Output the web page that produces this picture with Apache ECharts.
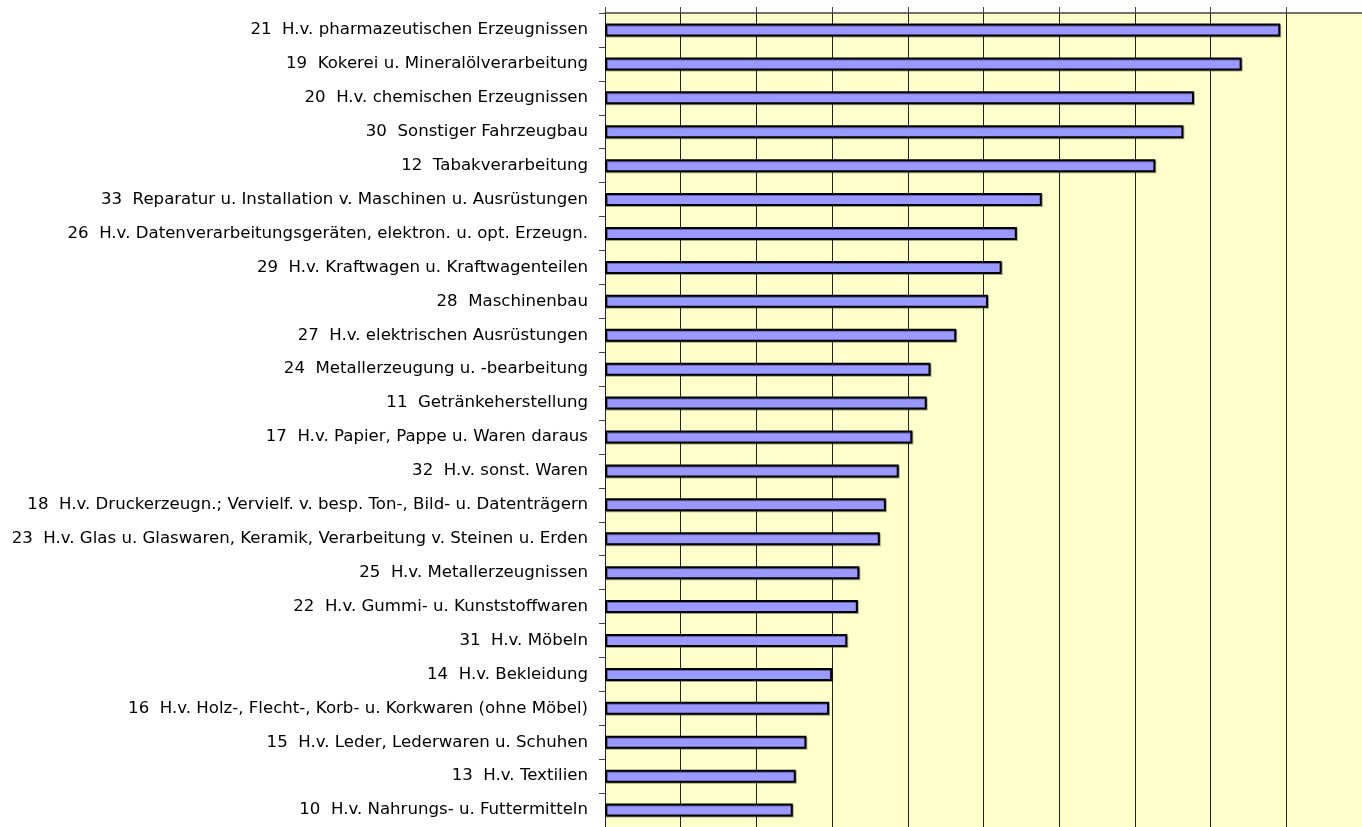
<!DOCTYPE html>
<html>
<head>
<meta charset="utf-8">
<script src="https://cdn.jsdelivr.net/npm/echarts@6/dist/echarts.min.js"></script>
<style>
  html, body { margin: 0; padding: 0; background: #fff; }
  #chart { width: 1362px; height: 827px; }
</style>
</head>
<body>
<div id="chart"></div>
<script>
// Wirtschaftszweige (WZ 2008), sorted as in the picture, top to bottom
var categories = [
  "21  H.v. pharmazeutischen Erzeugnissen",
  "19  Kokerei u. Mineralölverarbeitung",
  "20  H.v. chemischen Erzeugnissen",
  "30  Sonstiger Fahrzeugbau",
  "12  Tabakverarbeitung",
  "33  Reparatur u. Installation v. Maschinen u. Ausrüstungen",
  "26  H.v. Datenverarbeitungsgeräten, elektron. u. opt. Erzeugn.",
  "29  H.v. Kraftwagen u. Kraftwagenteilen",
  "28  Maschinenbau",
  "27  H.v. elektrischen Ausrüstungen",
  "24  Metallerzeugung u. -bearbeitung",
  "11  Getränkeherstellung",
  "17  H.v. Papier, Pappe u. Waren daraus",
  "32  H.v. sonst. Waren",
  "18  H.v. Druckerzeugn.; Vervielf. v. besp. Ton-, Bild- u. Datenträgern",
  "23  H.v. Glas u. Glaswaren, Keramik, Verarbeitung v. Steinen u. Erden",
  "25  H.v. Metallerzeugnissen",
  "22  H.v. Gummi- u. Kunststoffwaren",
  "31  H.v. Möbeln",
  "14  H.v. Bekleidung",
  "16  H.v. Holz-, Flecht-, Korb- u. Korkwaren (ohne Möbel)",
  "15  H.v. Leder, Lederwaren u. Schuhen",
  "13  H.v. Textilien",
  "10  H.v. Nahrungs- u. Futtermitteln"
];

// values (axis has no labels, scale 0..100)
var values = [
  89.2, 84.1, 77.8, 76.4, 72.7, 57.7, 54.4, 52.4, 50.6, 46.4, 43.0, 42.5,
  40.6, 38.8, 37.1, 36.3, 33.6, 33.4, 32.0, 30.0, 29.6, 26.6, 25.2, 24.8
];

var xTicks = { min: 0, max: 100, interval: 10 };

var chart = echarts.init(document.getElementById("chart"));

var option = {
  animation: false,
  backgroundColor: "#ffffff",
  grid: {
    left: 605,
    right: -2,
    top: 13,
    bottom: -6,
    show: true,
    backgroundColor: "#FFFFCC",
    borderWidth: 0
  },
  xAxis: {
    type: "value",
    position: "top",
    min: xTicks.min,
    max: xTicks.max,
    interval: xTicks.interval,
    axisLabel: { show: false },
    axisLine: { show: true, lineStyle: { color: "#444", width: 1.5 } },
    axisTick: { show: true, inside: false, length: 6, lineStyle: { color: "#444" } },
    splitLine: { show: true, lineStyle: { color: "#222", width: 1 } }
  },
  yAxis: {
    type: "category",
    inverse: true,
    data: categories,
    axisLine: { show: true, lineStyle: { color: "#222", width: 1 } },
    axisTick: { show: true, length: 6, lineStyle: { color: "#444" } },
    axisLabel: {
      margin: 17,
      color: "#000",
      fontFamily: "DejaVu Sans",
      fontSize: 16.6
    }
  },
  series: [{
    type: "bar",
    data: values,
    barWidth: 13,
    itemStyle: {
      color: "#9999FF",
      borderColor: "#000",
      borderWidth: 2,
      shadowColor: "rgba(0,0,0,0.35)",
      shadowOffsetX: 1,
      shadowOffsetY: 1
    }
  }]
};

chart.setOption(option);
</script>
</body>
</html>
